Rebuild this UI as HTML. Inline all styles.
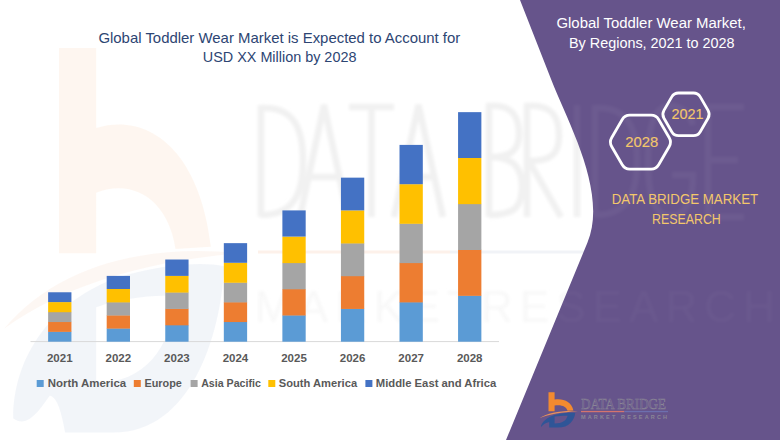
<!DOCTYPE html>
<html><head><meta charset="utf-8">
<style>
html,body{margin:0;padding:0;background:#fff;}
body{width:780px;height:440px;overflow:hidden;position:relative;font-family:"Liberation Sans",sans-serif;}
svg{position:absolute;left:0;top:0;}
</style></head>
<body>
<svg width="780" height="440" viewBox="0 0 780 440" font-family="Liberation Sans, sans-serif">
  <rect width="780" height="440" fill="#ffffff"/>
  <!-- watermark -->
  <g opacity="1">
    <g transform="translate(59,48) scale(6.1,10.8) translate(-548.5,-392.2)" opacity="0.065">
      <path d="M548.5,392.2 H554.6 V399.6 C563,398.2 571.5,401.5 573.4,410.6 L567.6,410.8 C566.5,406.5 561,404.2 554.6,405.6 V411.2 H548.5 Z" fill="#f28a30"/>
      <path d="M539.5,418.2 C548,412.5 562,410.3 578,411.2 C562,412 549,414.3 539.5,418.2 Z" fill="#e8905a"/>
      <path fill-rule="evenodd" fill="#5274b0" d="M541,426.5 C541,420 549,415 559,413.3 C566,412.2 572,412 575.6,412.4 C575,419 570,427.8 557.5,427.8 L549.5,427.8 C548.8,425.5 548,424.5 547,424.4 C545.5,425.5 543.5,427.5 541,426.5 Z M554.6,416.2 C559,415.4 564,415 567.8,415.2 C566.8,420 562.5,423.2 554.6,423.2 Z"/>
    </g>
    <defs><filter id="bl" x="-10%" y="-10%" width="120%" height="120%"><feGaussianBlur stdDeviation="1.4"/></filter></defs>
    <g fill="none" stroke="#f1f1f1" stroke-width="6.5" stroke-linejoin="miter" filter="url(#bl)">
      <path d="M261,105 V217 M261,108 C296,106 303,132 303,161 C303,190 296,215 261,215"/>
      <path d="M300,217 L324,105 L348,217 M309,177 H339"/>
      <path d="M349,107 H394 M371.5,107 V217"/>
      <path d="M394,217 L418.5,105 L443,217 M403,177 H434"/>
      <path d="M489,217 V106 C513,104 519,118 519,134 C519,150 511,157 491,157 C515,157 522,170 522,187 C522,207 514,215 489,215"/>
      <path d="M527,217 V106 C553,104 559,118 559,136 C559,154 551,161 529,161 L561,217"/>
      <path d="M577,217 V105"/>
    </g>
    <line x1="258" y1="252" x2="450" y2="252" stroke="#fdf1ea" stroke-width="3"/>
    <line x1="450" y1="252" x2="780" y2="252" stroke="#f1f3f7" stroke-width="3"/>
    <g fill="#f8f8f8" font-family="Liberation Sans, sans-serif" font-size="44" filter="url(#bl)">
      <text x="255" y="322" textLength="520" lengthAdjust="spacing">MARKETRESEARCH</text>
    </g>
  </g>
  <!-- purple panel -->
  <path d="M520,0 L780,0 L780,440 L506,440 L587.38,242.72 C607.86,193.07 568.97,124.92 551.27,79.76 Z" fill="#66548b"/>
  <!-- watermark over purple -->
  <g fill="none" stroke="#ffffff" stroke-width="6.5" opacity="0.04" filter="url(#bl)">
    <path d="M577,217 V105"/>
    <path d="M595,217 V105 M595,108 C630,106 637,132 637,161 C637,190 630,215 595,215"/>
    <path d="M693,125 C688,110 680,106 670,106 C655,106 648,125 648,161 C648,197 655,216 670,216 C684,216 693,205 693,175 H672"/>
    <path d="M744,107 H708 V217 H744 M708,160 H738"/>
  </g>
  <g fill="#ffffff" opacity="0.025" font-family="Liberation Sans, sans-serif" font-size="44" filter="url(#bl)">
    <text x="255" y="322" textLength="520" lengthAdjust="spacing">MARKETRESEARCH</text>
  </g>
  <!-- left title -->
  <g fill="#2d4573" font-size="15">
    <text x="98.4" y="42.9" textLength="361.9" lengthAdjust="spacingAndGlyphs">Global Toddler Wear Market is Expected to Account for</text>
    <text x="202.8" y="62.4" textLength="153.6" lengthAdjust="spacingAndGlyphs">USD XX Million by 2028</text>
  </g>
  <!-- axis -->
  <line x1="30.5" y1="341.6" x2="499" y2="341.6" stroke="#d9d9d9" stroke-width="1"/>
  <g><rect x="48.13" y="331.57" width="23.30" height="10.12" fill="#5b9bd5"/><rect x="48.13" y="321.75" width="23.30" height="10.12" fill="#ed7d31"/><rect x="48.13" y="311.92" width="23.30" height="10.12" fill="#a5a5a5"/><rect x="48.13" y="302.10" width="23.30" height="10.12" fill="#ffc000"/><rect x="48.13" y="292.27" width="23.30" height="9.82" fill="#4472c4"/><rect x="106.69" y="328.30" width="23.30" height="13.40" fill="#5b9bd5"/><rect x="106.69" y="315.20" width="23.30" height="13.40" fill="#ed7d31"/><rect x="106.69" y="302.10" width="23.30" height="13.40" fill="#a5a5a5"/><rect x="106.69" y="289.00" width="23.30" height="13.40" fill="#ffc000"/><rect x="106.69" y="275.90" width="23.30" height="13.10" fill="#4472c4"/><rect x="165.26" y="325.02" width="23.30" height="16.68" fill="#5b9bd5"/><rect x="165.26" y="308.65" width="23.30" height="16.68" fill="#ed7d31"/><rect x="165.26" y="292.27" width="23.30" height="16.68" fill="#a5a5a5"/><rect x="165.26" y="275.90" width="23.30" height="16.68" fill="#ffc000"/><rect x="165.26" y="259.52" width="23.30" height="16.38" fill="#4472c4"/><rect x="223.82" y="321.75" width="23.30" height="19.95" fill="#5b9bd5"/><rect x="223.82" y="302.10" width="23.30" height="19.95" fill="#ed7d31"/><rect x="223.82" y="282.45" width="23.30" height="19.95" fill="#a5a5a5"/><rect x="223.82" y="262.80" width="23.30" height="19.95" fill="#ffc000"/><rect x="223.82" y="243.15" width="23.30" height="19.65" fill="#4472c4"/><rect x="282.38" y="315.20" width="23.30" height="26.50" fill="#5b9bd5"/><rect x="282.38" y="289.00" width="23.30" height="26.50" fill="#ed7d31"/><rect x="282.38" y="262.80" width="23.30" height="26.50" fill="#a5a5a5"/><rect x="282.38" y="236.60" width="23.30" height="26.50" fill="#ffc000"/><rect x="282.38" y="210.40" width="23.30" height="26.20" fill="#4472c4"/><rect x="340.94" y="308.65" width="23.30" height="33.05" fill="#5b9bd5"/><rect x="340.94" y="275.90" width="23.30" height="33.05" fill="#ed7d31"/><rect x="340.94" y="243.15" width="23.30" height="33.05" fill="#a5a5a5"/><rect x="340.94" y="210.40" width="23.30" height="33.05" fill="#ffc000"/><rect x="340.94" y="177.65" width="23.30" height="32.75" fill="#4472c4"/><rect x="399.51" y="302.10" width="23.30" height="39.60" fill="#5b9bd5"/><rect x="399.51" y="262.80" width="23.30" height="39.60" fill="#ed7d31"/><rect x="399.51" y="223.50" width="23.30" height="39.60" fill="#a5a5a5"/><rect x="399.51" y="184.20" width="23.30" height="39.60" fill="#ffc000"/><rect x="399.51" y="144.90" width="23.30" height="39.30" fill="#4472c4"/><rect x="458.07" y="295.55" width="23.30" height="46.15" fill="#5b9bd5"/><rect x="458.07" y="249.70" width="23.30" height="46.15" fill="#ed7d31"/><rect x="458.07" y="203.85" width="23.30" height="46.15" fill="#a5a5a5"/><rect x="458.07" y="158.00" width="23.30" height="46.15" fill="#ffc000"/><rect x="458.07" y="112.15" width="23.30" height="45.85" fill="#4472c4"/></g>
  <g fill="#595959" font-size="11.5" font-weight="bold"><text x="59.78" y="361.9" text-anchor="middle">2021</text><text x="118.34" y="361.9" text-anchor="middle">2022</text><text x="176.91" y="361.9" text-anchor="middle">2023</text><text x="235.47" y="361.9" text-anchor="middle">2024</text><text x="294.03" y="361.9" text-anchor="middle">2025</text><text x="352.59" y="361.9" text-anchor="middle">2026</text><text x="411.16" y="361.9" text-anchor="middle">2027</text><text x="469.72" y="361.9" text-anchor="middle">2028</text></g>
  <g fill="#595959" font-size="11" font-weight="bold"><rect x="36.7" y="380" width="7" height="7" fill="#5b9bd5"/><text x="47.7" y="387.1" textLength="78.5" lengthAdjust="spacingAndGlyphs">North America</text><rect x="133.8" y="380" width="7" height="7" fill="#ed7d31"/><text x="144.4" y="387.1" textLength="37.5" lengthAdjust="spacingAndGlyphs">Europe</text><rect x="190.6" y="380" width="7" height="7" fill="#a5a5a5"/><text x="201.2" y="387.1" textLength="59.6" lengthAdjust="spacingAndGlyphs">Asia Pacific</text><rect x="268.3" y="380" width="7" height="7" fill="#ffc000"/><text x="278.8" y="387.1" textLength="78.3" lengthAdjust="spacingAndGlyphs">South America</text><rect x="365.4" y="380" width="7" height="7" fill="#4472c4"/><text x="375.8" y="387.1" textLength="120.4" lengthAdjust="spacingAndGlyphs">Middle East and Africa</text></g>
  <!-- right title -->
  <g fill="#ffffff" font-size="15.1">
    <text x="556.4" y="28.1" textLength="189.5" lengthAdjust="spacingAndGlyphs">Global Toddler Wear Market,</text>
    <text x="569" y="48.2" textLength="165.6" lengthAdjust="spacingAndGlyphs">By Regions, 2021 to 2028</text>
  </g>
  <!-- hexagons -->
  <path d="M611.65,146.48 Q609.15,142.15 611.65,137.82 L622.24,119.48 Q624.74,115.15 629.74,115.15 L651.16,115.15 Q656.16,115.15 658.66,119.48 L669.25,137.82 Q671.75,142.15 669.25,146.48 L658.66,164.82 Q656.16,169.15 651.16,169.15 L629.74,169.15 Q624.74,169.15 622.24,164.82 Z" fill="none" stroke="#ffffff" stroke-width="2.8"/>
  <path d="M663.95,118.20 Q661.70,114.30 663.95,110.40 L671.75,96.90 Q674.00,93.00 678.50,93.00 L693.50,93.00 Q698.00,93.00 700.25,96.90 L708.05,110.40 Q710.30,114.30 708.05,118.20 L700.25,131.70 Q698.00,135.60 693.50,135.60 L678.50,135.60 Q674.00,135.60 671.75,131.70 Z" fill="none" stroke="#ffffff" stroke-width="2.8"/>
  <g fill="#f3c76b" stroke="#f3c76b" stroke-width="0.15" font-size="15">
    <text x="625.2" y="147.2" textLength="33" lengthAdjust="spacingAndGlyphs">2028</text>
    <text x="671.4" y="119" textLength="32" lengthAdjust="spacingAndGlyphs">2021</text>
  </g>
  <g fill="#f3c76b" font-size="14.5">
    <text x="611.7" y="204" textLength="146.5" lengthAdjust="spacingAndGlyphs">DATA BRIDGE MARKET</text>
    <text x="652" y="223.5" textLength="68.8" lengthAdjust="spacingAndGlyphs">RESEARCH</text>
  </g>
  <!-- logo -->
  <g>
    <path d="M548.5,392.2 H554.6 V399.6 C563,398.2 571.5,401.5 573.4,410.6 L567.6,410.8 C566.5,406.5 561,404.2 554.6,405.6 V411.2 H548.5 Z" fill="#f28a30"/>
    <path d="M539.5,418.2 C548,412.5 562,410.3 578,411.2 C562,412 549,414.3 539.5,418.2 Z" fill="#e8905a"/>
    <path fill-rule="evenodd" fill="#2f5597" d="M541,425.8 C543,420 550,415.6 560,413.8 C566,412.9 572,412.6 575.2,412.9 C574.5,420 569,427.6 558,427.6 L549.2,427.6 L549.2,422 C546,422.5 543,424.5 541.2,427 Z M554.6,416.6 C559.5,415.8 564.5,415.5 567.6,415.7 C566.6,420.2 562.5,423.4 554.6,423.4 Z"/>
    <text x="581" y="409.3" font-family="Liberation Serif, serif" font-size="14.6" fill="none" stroke="#8a8696" stroke-width="0.5" textLength="85" lengthAdjust="spacingAndGlyphs">DATA BRIDGE</text>
    <rect x="581" y="410.9" width="43.4" height="1.3" fill="#d4746e"/>
    <rect x="624.4" y="410.9" width="43.6" height="1.3" fill="#6d6fae"/>
    <text x="581" y="419" font-family="Liberation Sans, sans-serif" font-size="5.5" font-weight="bold" fill="#8a8696" textLength="86" lengthAdjust="spacing">MARKET   RESEARCH</text>
  </g>
</svg>
</body></html>
